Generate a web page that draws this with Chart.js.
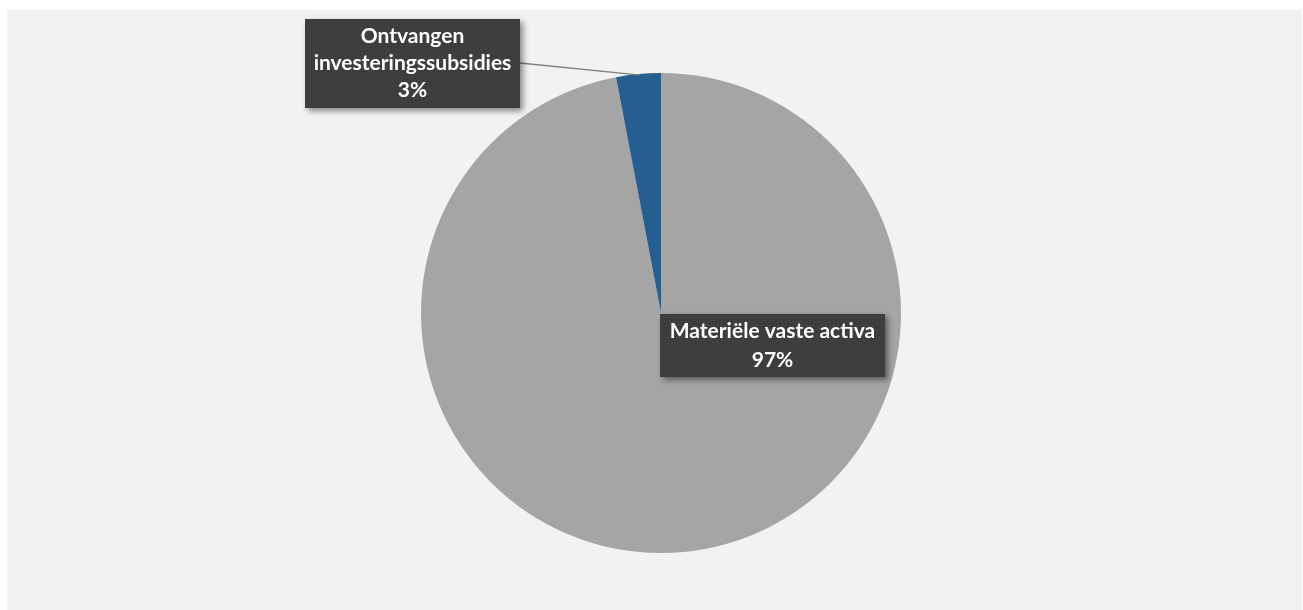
<!DOCTYPE html>
<html>
<head>
<meta charset="utf-8">
<script src="https://cdn.jsdelivr.net/npm/chart.js@4.4.0/dist/chart.umd.min.js"></script>
<style>
html,body{margin:0;padding:0;background:#ffffff;}
#wrap{width:1303px;height:610px;position:relative;}
</style>
</head>
<body>
<div id="wrap"><canvas id="c" width="1303" height="610"></canvas></div>
<script>
const categories = ["Materiële vaste activa", "Ontvangen investeringssubsidies"];
const values = [97, 3];
const percentLabels = ["97%", "3%"];
const colors = ["#a5a5a5", "#255e91"];

// label boxes: line texts per slice
const labelLines = [
  ["Materiële vaste activa", "97%"],
  ["Ontvangen", "investeringssubsidies", "3%"]
];

function makePattern(ctx){
  const p = document.createElement('canvas');
  p.width = 4; p.height = 4;
  const pc = p.getContext('2d');
  pc.fillStyle = '#3d3d3d';
  pc.fillRect(0,0,4,4);
  pc.fillStyle = '#4b4b4b';
  pc.fillRect(1,1,1,1);
  return ctx.createPattern(p, 'repeat');
}

const bgPlugin = {
  id: 'bg',
  beforeDraw(chart){
    const ctx = chart.ctx;
    ctx.save();
    ctx.fillStyle = '#ffffff';
    ctx.fillRect(0,0,chart.width,chart.height);
    ctx.fillStyle = '#f2f2f2';
    ctx.fillRect(7,10,chart.width-8,chart.height-10);
    ctx.restore();
  }
};

const labelPlugin = {
  id: 'boxLabels',
  afterDatasetsDraw(chart){
    const ctx = chart.ctx;
    const meta = chart.getDatasetMeta(0);
    const pattern = makePattern(ctx);
    ctx.save();
    ctx.font = 'bold 21px Lato, "Open Sans", sans-serif';
    const a0 = meta.data[0];
    const a1 = meta.data[1];
    const cx = a0.x, cy = a0.y, r = a0.outerRadius;

    const boxes = [
      {lines: labelLines[0], x: cx - 1, y: cy + 1, w: 225, h: 63, lh: 29},
      {lines: labelLines[1], x: cx - 356, y: cy - 294, w: 215, h: 89, lh: 27}
    ];

    // leader line for slice 1
    const mid1 = (a1.startAngle + a1.endAngle) / 2;
    const ex = cx + Math.cos(mid1) * r;
    const ey = cy + Math.sin(mid1) * r;
    ctx.strokeStyle = '#7f7f7f';
    ctx.lineWidth = 1.3;
    ctx.beginPath();
    ctx.moveTo(boxes[1].x + boxes[1].w, boxes[1].y + 44);
    ctx.lineTo(ex + 2, ey + 1);
    ctx.stroke();

    boxes.forEach(b => {
      ctx.save();
      ctx.shadowColor = 'rgba(0,0,0,0.45)';
      ctx.shadowBlur = 6;
      ctx.shadowOffsetX = 3;
      ctx.shadowOffsetY = 3;
      ctx.fillStyle = '#3d3d3d';
      ctx.fillRect(b.x, b.y, b.w, b.h);
      ctx.restore();
      ctx.fillStyle = pattern;
      ctx.fillRect(b.x, b.y, b.w, b.h);
      ctx.fillStyle = '#ffffff';
      ctx.textAlign = 'center';
      ctx.textBaseline = 'middle';
      const total = b.lines.length * b.lh;
      const startY = b.y + (b.h - total) / 2 + b.lh / 2;
      b.lines.forEach((t, i) => {
        ctx.fillText(t, b.x + b.w / 2, startY + i * b.lh);
      });
    });
    ctx.restore();
  }
};

new Chart(document.getElementById('c'), {
  type: 'pie',
  data: {
    labels: categories,
    datasets: [{
      data: values,
      backgroundColor: colors,
      borderWidth: 0,
      hoverOffset: 0
    }]
  },
  options: {
    responsive: false,
    animation: false,
    events: [],
    layout: { padding: { top: 73, bottom: 57, left: 421, right: 402 } },
    plugins: {
      legend: { display: false },
      tooltip: { enabled: false },
      title: { display: false }
    }
  },
  plugins: [bgPlugin, labelPlugin]
});
</script>
</body>
</html>
